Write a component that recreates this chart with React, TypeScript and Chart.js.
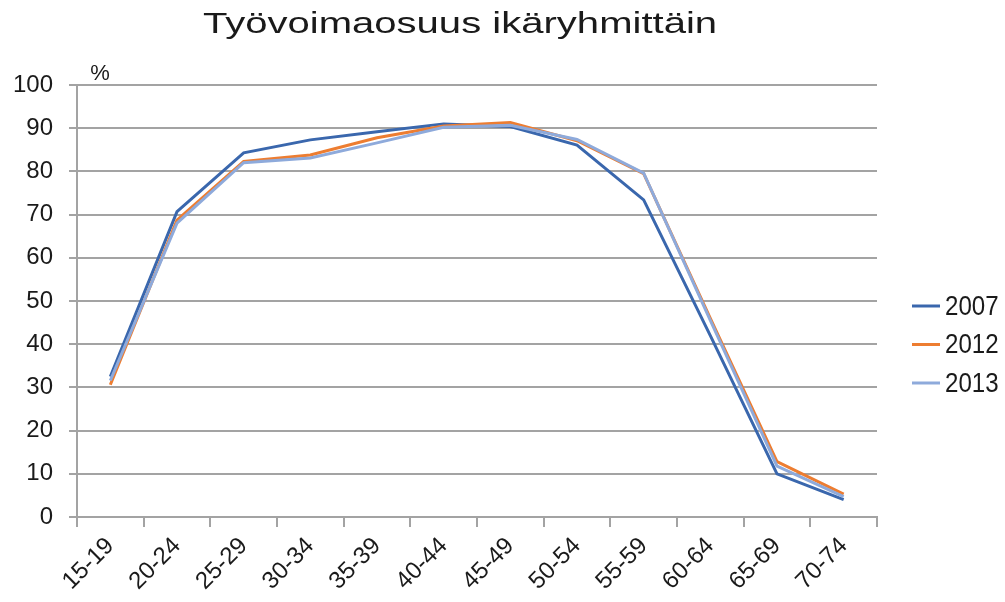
import React, { useEffect, useRef } from "react";
import { Chart, registerables } from "chart.js";

Chart.register(...registerables);

const TITLE = "Työvoimaosuus ikäryhmittäin";
const UNIT_LABEL = "%";
const AGE_GROUPS = ["15-19", "20-24", "25-29", "30-34", "35-39", "40-44", "45-49", "50-54", "55-59", "60-64", "65-69", "70-74"];
const YEARS = ["2007", "2012", "2013"];
const RATE_2007 = [32.5, 70.7, 84.3, 87.3, 89.2, 91.0, 90.4, 86.1, 73.4, 42.0, 10.0, 4.0];
const RATE_2012 = [30.6, 68.7, 82.3, 83.8, 87.8, 90.5, 91.3, 87.1, 79.5, 46.0, 12.8, 5.3];
const RATE_2013 = [31.6, 68.0, 82.0, 83.1, 86.6, 90.2, 90.7, 87.4, 79.6, 45.5, 11.8, 4.7];
const Y_MIN = 0;
const Y_MAX = 100;
const Y_STEP = 10;

const COLORS = ["#3A67AD", "#ED7D31", "#8EAADB"];
const FONT = "'Liberation Sans', Arial, Helvetica, sans-serif";
const TEXT = "#1a1a1a";
const GRID = "#A3A3A3";

const decorations = {
  id: "decorations",
  afterDraw(chart: any) {
    const ctx = chart.ctx as CanvasRenderingContext2D;
    const { left, top, right } = chart.chartArea;
    ctx.save();
    ctx.fillStyle = TEXT;
    ctx.textBaseline = "alphabetic";
    // title (horizontally stretched as in the reference)
    ctx.save();
    ctx.font = `30px ${FONT}`;
    ctx.textAlign = "center";
    ctx.translate(460, 33);
    ctx.scale(1.335, 1);
    ctx.fillText(TITLE, 0, 0);
    ctx.restore();
    // unit label
    ctx.font = `22px ${FONT}`;
    ctx.textAlign = "center";
    ctx.fillText(UNIT_LABEL, left + 23, top - 5);
    // legend
    const ds = chart.data.datasets;
    ds.forEach((d: any, i: number) => {
      const y = top + 221 + i * 38.5;
      ctx.strokeStyle = d.borderColor;
      ctx.lineWidth = 3;
      ctx.beginPath();
      ctx.moveTo(right + 35, y);
      ctx.lineTo(right + 63, y);
      ctx.stroke();
      ctx.save();
      ctx.font = `28px ${FONT}`;
      ctx.textAlign = "left";
      ctx.textBaseline = "middle";
      ctx.translate(right + 68, y + 1);
      ctx.scale(0.86, 1);
      ctx.fillText(d.label, 0, 0);
      ctx.restore();
    });
    ctx.restore();
  },
};

export default function App() {
  const ref = useRef<HTMLCanvasElement | null>(null);
  useEffect(() => {
    if (!ref.current) return;
    const series = [RATE_2007, RATE_2012, RATE_2013];
    const chart = new Chart(ref.current, {
      type: "line",
      data: {
        labels: AGE_GROUPS,
        datasets: YEARS.map((y, i) => ({
          label: y,
          data: series[i],
          borderColor: COLORS[i],
          backgroundColor: COLORS[i],
          borderWidth: 3,
          pointRadius: 0,
          tension: 0,
          fill: false,
          order: YEARS.length - i,
        })),
      },
      options: {
        animation: false,
        responsive: true,
        maintainAspectRatio: false,
        layout: { padding: { top: 85, right: 128, left: 0, bottom: 0 } },
        plugins: {
          legend: { display: false },
          title: { display: false },
          tooltip: { enabled: false },
        },
        scales: {
          x: {
            offset: true,
            afterFit(scale: any) {
              scale.height = 85;
            },
            grid: {
              offset: true,
              drawOnChartArea: false,
              drawTicks: true,
              tickLength: 10,
              color: GRID,
              lineWidth: 2,
            },
            border: { display: true, color: GRID, width: 2 },
            ticks: {
              maxRotation: 45,
              minRotation: 45,
              autoSkip: false,
              padding: 5,
              color: TEXT,
              font: { family: FONT, size: 24 },
            },
          },
          y: {
            min: Y_MIN,
            max: Y_MAX,
            afterFit(scale: any) {
              scale.width = 77;
            },
            grid: {
              color: GRID,
              lineWidth: 2,
              drawTicks: true,
              tickLength: 8,
            },
            border: { display: true, color: GRID, width: 2 },
            ticks: {
              stepSize: Y_STEP,
              padding: 16,
              color: TEXT,
              font: { family: FONT, size: 24 },
            },
          },
        },
      },
      plugins: [decorations],
    });
    return () => chart.destroy();
  }, []);
  return (
    <div style={{ position: "fixed", left: 0, top: 0, width: 1005, height: 602, background: "#fff" }}>
      <canvas ref={ref} />
    </div>
  );
}
